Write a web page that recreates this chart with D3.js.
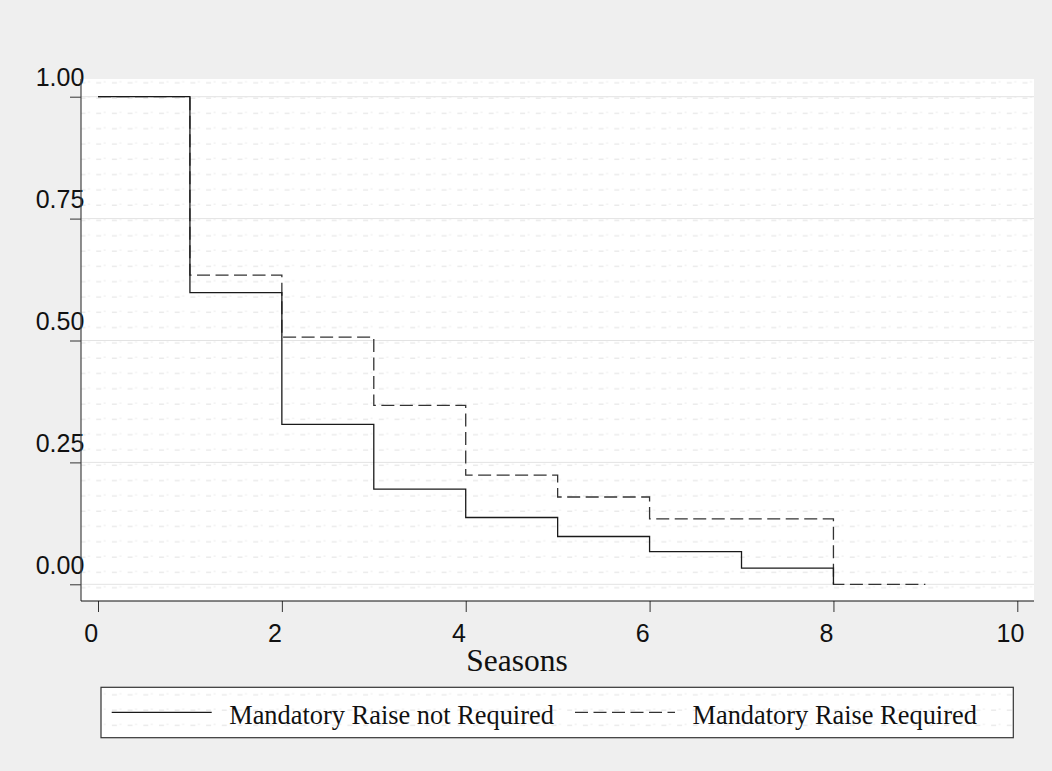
<!DOCTYPE html>
<html>
<head>
<meta charset="utf-8">
<script src="https://cdn.jsdelivr.net/npm/d3@7"></script>
<style>
  html, body { margin: 0; padding: 0; background: #efefef; }
  svg { display: block; }
</style>
</head>
<body>
<svg id="chart" width="1052" height="771"></svg>
<script>
// Kaplan-Meier style survival steps, by season
const seasonsNotRequired = [0, 1, 2, 3, 4, 5, 6, 7, 8];
const survivalNotRequired = [1.0, 0.598, 0.328, 0.195, 0.137, 0.098, 0.067, 0.033, 0.0];

const seasonsRequired = [0, 1, 2, 3, 4, 5, 6, 7, 8, 9];
const survivalRequired = [1.0, 0.634, 0.507, 0.367, 0.224, 0.179, 0.134, 0.134, 0.0, 0.0];

const xTicks = [0, 2, 4, 6, 8, 10];
const yTicks = [0, 0.25, 0.5, 0.75, 1];
const xTitle = "Seasons";
const legendLabels = ["Mandatory Raise not Required", "Mandatory Raise Required"];

const svg = d3.select("#chart");

// plot region
const plot = { left: 81, right: 1034, top: 79, bottom: 601 };

const x = d3.scaleLinear().domain([0, 10]).range([98, 1017.3]);
const y = d3.scaleLinear().domain([0, 1]).range([584.3, 96.7]);

// faint row texture on white areas
const defs = svg.append("defs");
const pat = defs.append("pattern")
  .attr("id", "rows")
  .attr("patternUnits", "userSpaceOnUse")
  .attr("x", 2).attr("y", 82.7 - 2)
  .attr("width", 15.7).attr("height", 15.3);
pat.append("rect").attr("width", 15.7).attr("height", 15.3).attr("fill", "#ffffff");
pat.append("rect").attr("x", 0).attr("y", 1.5).attr("width", 5).attr("height", 1.3).attr("fill", "#e9e9e9");
pat.append("rect").attr("x", 7.5).attr("y", 0.6).attr("width", 2).attr("height", 1).attr("fill", "#ececec");

svg.append("rect")
  .attr("x", plot.left).attr("y", plot.top)
  .attr("width", plot.right - plot.left).attr("height", plot.bottom - plot.top)
  .attr("fill", "url(#rows)");

// horizontal grid lines
svg.append("g")
  .selectAll("line")
  .data(yTicks)
  .join("line")
  .attr("x1", plot.left).attr("x2", plot.right)
  .attr("y1", d => y(d)).attr("y2", d => y(d))
  .attr("stroke", "#e3e3e3").attr("stroke-width", 1);

// y axis
const yAxis = svg.append("g")
  .attr("transform", `translate(${plot.left},0)`)
  .call(d3.axisLeft(y).tickValues(yTicks).tickFormat(d3.format(".2f")).tickSize(11).tickPadding(-14.3));
yAxis.select(".domain").remove();
yAxis.selectAll(".tick line").attr("stroke", "#333");
yAxis.selectAll(".tick text")
  .attr("dy", null).attr("y", -10.8)
  .attr("fill", "#111")
  .style("font-family", "'Liberation Sans', Arial, sans-serif")
  .style("font-size", "25px");

// x axis
const xAxis = svg.append("g")
  .attr("transform", `translate(0,${plot.bottom})`)
  .call(d3.axisBottom(x).tickValues(xTicks).tickFormat(d3.format("d")).tickSize(11));
xAxis.select(".domain").remove();
xAxis.selectAll(".tick line").attr("stroke", "#333");
xAxis.selectAll(".tick text")
  .attr("dy", null).attr("y", 40.7).attr("x", -7.4)
  .attr("fill", "#111")
  .style("font-family", "'Liberation Sans', Arial, sans-serif")
  .style("font-size", "25px");

// axis lines
svg.append("line")
  .attr("x1", plot.left).attr("x2", plot.left)
  .attr("y1", plot.top).attr("y2", plot.bottom)
  .attr("stroke", "#444").attr("stroke-width", 1.2);
svg.append("line")
  .attr("x1", plot.left).attr("x2", plot.right)
  .attr("y1", plot.bottom).attr("y2", plot.bottom)
  .attr("stroke", "#111").attr("stroke-width", 1.2);

// x title
svg.append("text")
  .attr("x", 517).attr("y", 671)
  .attr("text-anchor", "middle")
  .attr("fill", "#111")
  .style("font-family", "'Liberation Serif', 'Times New Roman', serif")
  .style("font-size", "31.5px")
  .text(xTitle);

// survival steps
const step = d3.line()
  .x(d => x(d[0]))
  .y(d => y(d[1]))
  .curve(d3.curveStepAfter);

const dashPattern = "13,5.5";

svg.append("path")
  .datum(d3.zip(seasonsRequired, survivalRequired))
  .attr("d", step)
  .attr("fill", "none")
  .attr("stroke", "#333")
  .attr("stroke-width", 1.3)
  .attr("stroke-dasharray", dashPattern);

svg.append("path")
  .datum(d3.zip(seasonsNotRequired, survivalNotRequired))
  .attr("d", step)
  .attr("fill", "none")
  .attr("stroke", "#1a1a1a")
  .attr("stroke-width", 1.3);

// legend
const legend = svg.append("g");
legend.append("rect")
  .attr("x", 101).attr("y", 687.3)
  .attr("width", 1013.3 - 101).attr("height", 737.7 - 687.3)
  .attr("fill", "url(#rows)")
  .attr("stroke", "#333").attr("stroke-width", 1.2);

const legendItems = [
  { label: legendLabels[0], x0: 111.7, dash: null, color: "#1a1a1a" },
  { label: legendLabels[1], x0: 575, dash: dashPattern, color: "#333" }
];
legendItems.forEach(it => {
  legend.append("line")
    .attr("x1", it.x0).attr("x2", it.x0 + 100)
    .attr("y1", 712.3).attr("y2", 712.3)
    .attr("stroke", it.color).attr("stroke-width", 1.3)
    .attr("stroke-dasharray", it.dash);
  legend.append("text")
    .attr("x", it.x0 + 117.5).attr("y", 723.5)
    .attr("fill", "#111")
    .style("font-family", "'Liberation Serif', 'Times New Roman', serif")
    .style("font-size", "26.4px")
    .text(it.label);
});
</script>
</body>
</html>
